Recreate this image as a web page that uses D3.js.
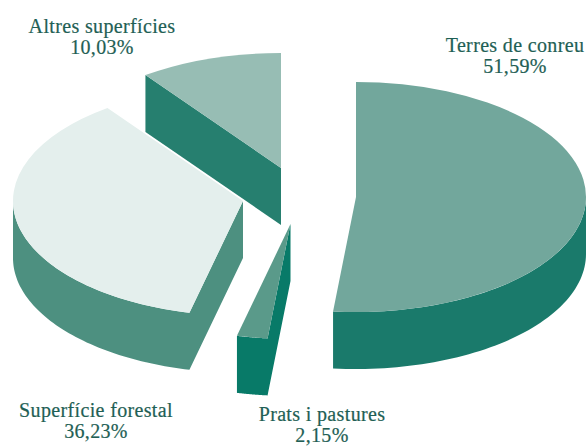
<!DOCTYPE html>
<html>
<head>
<meta charset="utf-8">
<script src="https://cdnjs.cloudflare.com/ajax/libs/d3/7.8.5/d3.min.js"></script>
<style>
  html, body { margin: 0; padding: 0; background: #fff; overflow: hidden; }
  text { font-family: "Liberation Serif", serif; font-size: 20px; letter-spacing: 0.35px; fill: #1f5f55; stroke: #1f5f55; stroke-width: 0.2px; text-anchor: middle; }
</style>
</head>
<body>
<div class="chart"></div>
<script>
// Data

var categories = ["Terres de conreu", "Prats i pastures", "Superfície forestal", "Altres superfícies"];
var shares = [51.59, 2.15, 36.23, 10.03];

// Colours for the top and the side of each slice

var topColors = ["#72a79c", "#5a9a8a", "#e4efed", "#97bdb4"];
var sideColors = ["#1a7a6b", "#087a68", "#4d9080", "#267f6f"];

// Chart area

var svgWidth = 587;
var svgHeight = 447;

// Flattened pie: horizontal radius, vertical radius and thickness

var radiusX = 230;
var radiusY = 115;
var depth = 57;

// Where the tip of each exploded slice sits, and where its label goes

var tips = [[356, 197], [290.5, 224], [243, 201], [281, 168]];
var labelSpots = [[515, 52], [322, 421], [96, 417], [102, 33]];

var svg = d3
    .select(".chart")
    .append("svg")
    .attr("width", svgWidth)
    .attr("height", svgHeight)
    .style("display", "block");

var pie = d3.pie().sort(null).value(d => d);
var slices = pie(shares);

var arc = d3.arc().innerRadius(0).outerRadius(radiusX);

// Scale the rim along the ellipse, angle measured clockwise from the top

var rimX = d3.scaleLinear().domain([-1, 1]).range([-radiusX, radiusX]);
var rimY = d3.scaleLinear().domain([-1, 1]).range([-radiusY, radiusY]);

function rimPoint(angle, drop) {
    return [rimX(Math.sin(angle)), rimY(-Math.cos(angle)) + drop];
}

// Rim band of a slice between two angles, as a closed shape

function bandPoints(a0, a1) {
    var steps = d3.range(0, 61).map(i => a0 + (a1 - a0) * i / 60);
    var upper = steps.map(a => rimPoint(a, 0));
    var lower = steps.slice().reverse().map(a => rimPoint(a, depth));
    return upper.concat(lower);
}

// Flat cut face from the tip to the rim at one angle

function cutPoints(angle) {
    var p = rimPoint(angle, 0);
    return [[0, 0], p, [p[0], p[1] + depth], [0, depth]];
}

var line = d3.line().curve(d3.curveLinearClosed);

// The parts of the side that face the viewer

function sideShapes(slice) {
    var shapes = [];
    var a0 = slice.startAngle;
    var a1 = slice.endAngle;
    // only the rim below the widest line of the ellipse can be seen
    var from = Math.max(a0, Math.PI / 2);
    var to = Math.min(a1, Math.PI * 3 / 2);
    if (from < to) {
        shapes.push(bandPoints(from, to));
    }
    // the cut face at the start angle shows on the slices left of the middle
    if (a0 > Math.PI) {
        shapes.push(cutPoints(a0));
    }
    return shapes;
}

var sliceGroups = svg.selectAll(".slice")
    .data(slices)
    .enter()
    .append("g")
    .attr("class", "slice")
    .attr("transform", (d, i) => `translate(${tips[i][0]}, ${tips[i][1]})`);

// One path per side so no seam shows between rim and cut face

sliceGroups.append("path")
    .attr("class", "side")
    .attr("d", d => sideShapes(d).map(s => line(s)).join(""))
    .attr("fill", (d, i) => sideColors[i]);

sliceGroups.append("path")
    .attr("class", "top")
    .attr("transform", `scale(1, ${radiusY / radiusX})`)
    .attr("d", d => arc(d))
    .attr("fill", (d, i) => topColors[i]);

// Labels: name on the first line, share with a decimal comma below

var shareText = d3.format(".2f");

var labels = svg.selectAll(".label")
    .data(categories)
    .enter()
    .append("g")
    .attr("class", "label")
    .attr("transform", (d, i) => `translate(${labelSpots[i][0]}, ${labelSpots[i][1]})`);

labels.append("text")
    .text(d => d);

labels.append("text")
    .attr("y", 21)
    .text((d, i) => shareText(shares[i]).replace(".", ",") + "%");
</script>
</body>
</html>
